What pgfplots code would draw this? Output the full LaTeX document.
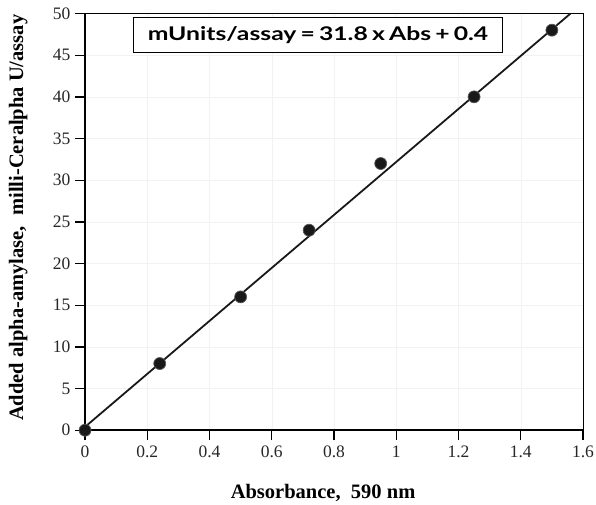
\documentclass[border=0pt]{standalone}
\usepackage{pgfplots}
\pgfplotsset{compat=1.18}
\usepackage{fontspec}
\setmainfont{Liberation Serif}
\newfontfamily\boxfont{Lato}
\begin{document}
\begin{tikzpicture}
\begin{axis}[
  scale only axis,
  width=497.7pt, height=416.5pt,
  xmin=0, xmax=1.6, ymin=0, ymax=50,
  xtick={0,0.2,...,1.6},
  ytick={0,5,...,50},
  xticklabels={0,0.2,0.4,0.6,0.8,1,1.2,1.4,1.6},
  yticklabels={0,5,10,15,20,25,30,35,40,45,50},
  xtick pos=bottom, ytick pos=left,
  tick align=outside,
  major tick length=10pt,
  tick style={line width=1.3pt, black},
  ticklabel style={font=\fontsize{17.5}{17.5}\selectfont, text=black!85},
  xticklabel style={yshift=-2pt},
  yticklabel style={xshift=-1pt},
  grid=major,
  major grid style={line width=0.4pt, black!5},
  axis line style={line width=1.0pt},
  xlabel={\textbf{Absorbance,\ \ 590 nm}},
  ylabel={\textbf{Added alpha-amylase,\ \ milli-Ceralpha U/assay}},
  label style={font=\fontsize{20.5}{20.5}\selectfont, inner sep=0pt},
  xlabel style={at={(axis description cs:0.478,0)}, anchor=base, yshift=-68pt},
  ylabel style={at={(axis description cs:-0.1245,0.51)}, anchor=base},
  clip=false,
]
\addplot[black!90, line width=1.8pt] coordinates {(0,0.4) (1.56,50)};
\addplot[only marks, mark=*, mark size=6pt, mark options={fill=black!90, draw=black!65, line width=0.7pt}]
  coordinates {(0,0) (0.24,8) (0.5,16) (0.72,24) (0.95,32) (1.25,40) (1.5,48)};
\draw[line width=1.7pt] (rel axis cs:0,0) -- (rel axis cs:0,1);
\draw[line width=1.7pt] (rel axis cs:0,0) -- (rel axis cs:1,0);
\node[draw=black, line width=1.1pt, fill=white, minimum width=369pt, minimum height=35pt, inner sep=0pt]
  at (rel axis cs:0.468,0.9475) {\boxfont\bfseries\resizebox{340pt}{14pt}{mUnits/assay\,=\,31.8\,x\,Abs\,+\,0.4}};
\end{axis}
\pgfresetboundingbox
\path[use as bounding box] (-85pt,-74pt) rectangle (510.7pt,430pt);
\end{tikzpicture}
\end{document}
